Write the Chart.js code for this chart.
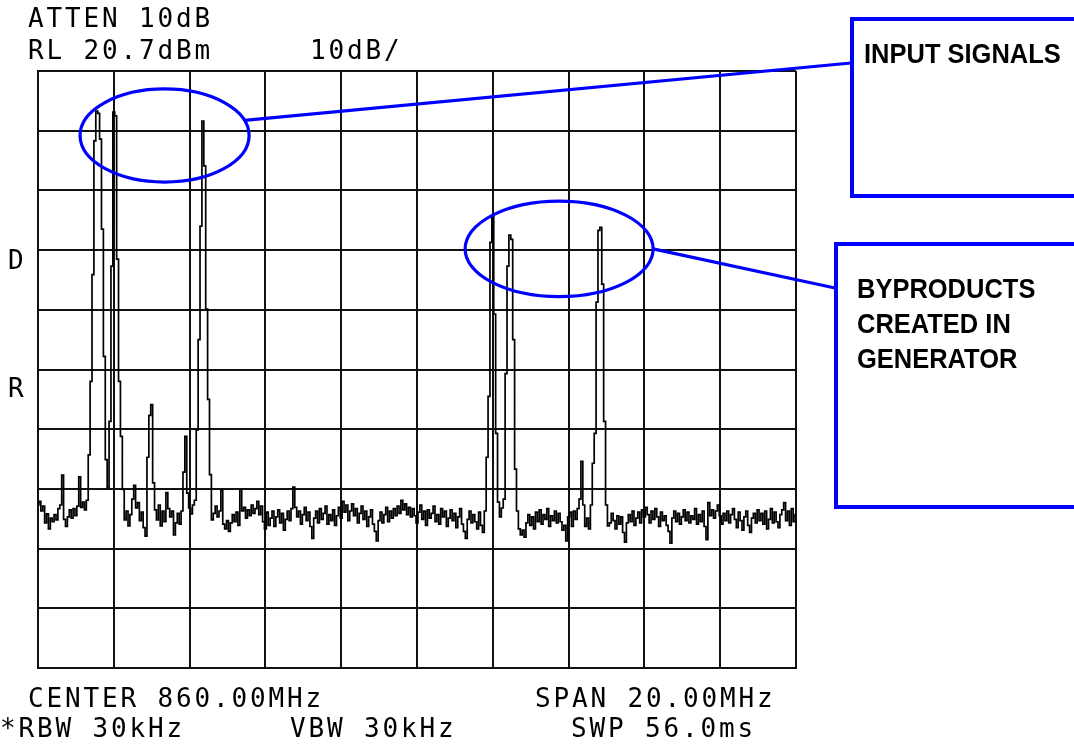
<!DOCTYPE html>
<html>
<head>
<meta charset="utf-8">
<title>Spectrum analyzer - intermodulation test</title>
<script src="https://cdn.jsdelivr.net/npm/chart.js@4.4.1/dist/chart.umd.min.js"></script>
<style>
  html, body { margin: 0; padding: 0; background: #fff; }
  #stage { position: relative; width: 1074px; height: 748px; overflow: hidden; }
  #chart { position: absolute; left: 0; top: 0; }
  .sa {
    position: absolute; color: #000; white-space: pre;
    font-family: "DejaVu Sans Mono", monospace;
    font-size: 26px; line-height: 26px; letter-spacing: 2.85px;
  }
  .box { position: absolute; box-sizing: border-box; border: 4px solid #0000ff; }
  .label {
    position: absolute; color: #000; white-space: pre;
    font-family: "Liberation Sans Narrow", "Liberation Sans", sans-serif;
    font-weight: bold; font-size: 28px; line-height: 35px;
    transform: scaleX(0.91); transform-origin: left top;
  }
</style>
</head>
<body>
<div id="stage">
  <canvas id="chart" width="1074" height="748"></canvas>

  <!-- annotations de l'analyseur -->
  <div class="sa" style="left:28px; top:5px;">ATTEN 10dB</div>
  <div class="sa" style="left:28px; top:37px;">RL 20.7dBm</div>
  <div class="sa" style="left:310px; top:37px;">10dB/</div>
  <div class="sa" style="left:8px; top:247px;">D</div>
  <div class="sa" style="left:8px; top:375px;">R</div>
  <div class="sa" style="left:28px; top:685px;">CENTER 860.00MHz</div>
  <div class="sa" style="left:535px; top:685px;">SPAN 20.00MHz</div>
  <div class="sa" style="left:0px; top:715px;">*RBW 30kHz</div>
  <div class="sa" style="left:290px; top:715px;">VBW 30kHz</div>
  <div class="sa" style="left:571px; top:715px;">SWP 56.0ms</div>

  <!-- encadrés bleus -->
  <div class="box" style="left:850px; top:17px; width:260px; height:181px;"></div>
  <div class="label" style="left:864px; top:36px;">INPUT SIGNALS</div>
  <div class="box" style="left:834px; top:242px; width:280px; height:267px;"></div>
  <div class="label" style="left:857px; top:271px;">BYPRODUCTS
CREATED IN
GENERATOR</div>
</div>

<script>
(function () {
    'use strict';

    const CENTER_MHZ = 860.0;
    const SPAN_MHZ = 20.0;
    const REF_LEVEL_DBM = 20.7;
    const DB_PER_DIV = 10;
    const DIVISIONS = 10;

    // Trace : 401 points de balayage, en dBm
    const TRACE_DBM = [
        -52.0, -51.4, -53.0, -52.2, -55.0, -53.5, -56.0, -54.2, -54.8, -53.6,
        -54.5, -52.6, -52.0, -47.0, -54.4, -55.6, -54.0, -52.8, -54.2, -52.6,
        -53.8, -52.2, -47.3, -52.4, -51.5, -52.8, -51.2, -43.6, -31.3, -13.4,
        9.0, 14.0, 13.6, 9.3, -5.8, -27.1, -44.4, -49.1, -38.0, -12.0,
        13.8, 13.2, -10.8, -31.3, -40.5, -49.4, -54.5, -53.0, -55.5, -53.6,
        -51.0, -48.7, -52.5, -51.6, -54.6, -53.2, -55.8, -57.2, -44.0, -37.0,
        -35.2, -48.3, -52.8, -54.5, -52.0, -55.5, -53.0, -54.8, -49.9, -52.6,
        -54.0, -53.0, -57.0, -55.0, -53.4, -55.2, -53.0, -46.5, -40.5, -50.0,
        -52.5, -53.5, -52.0, -51.2, -39.4, -24.3, -5.3, 12.3, 4.8, -19.2,
        -34.3, -46.9, -54.5, -53.4, -52.2, -54.0, -53.0, -49.5, -55.2, -56.0,
        -54.6, -56.4, -55.0, -53.6, -54.8, -53.2, -55.4, -49.4, -53.0, -52.4,
        -54.2, -52.8, -53.8, -52.0, -53.4, -52.6, -51.4, -53.6, -52.2, -54.8,
        -56.0, -53.2, -55.4, -54.2, -53.0, -55.6, -54.0, -52.8, -55.0, -53.4,
        -56.2, -54.4, -53.0, -54.6, -52.6, -49.0, -52.4, -54.0, -53.0, -55.2,
        -53.6, -52.4, -54.6, -53.2, -55.6, -57.6, -54.2, -53.0, -55.0, -52.6,
        -54.4, -53.4, -52.2, -55.2, -53.6, -54.6, -52.8, -55.4, -53.8, -52.4,
        -54.2, -51.4, -53.2, -52.0, -54.6, -53.0, -51.8, -53.8, -52.6, -55.0,
        -53.4, -52.2, -54.4, -53.0, -55.6, -54.0, -52.8, -55.2, -56.4, -58.0,
        -54.6, -53.2, -55.0, -53.6, -52.4, -54.8, -53.0, -54.2, -52.6, -53.8,
        -52.2, -53.4, -51.2, -52.8, -51.8, -53.6, -52.4, -54.0, -52.6, -53.8,
        -55.0, -53.2, -52.0, -54.4, -53.0, -55.4, -52.8, -54.2, -53.4, -52.2,
        -54.8, -53.6, -55.2, -52.6, -54.0, -53.0, -55.6, -54.2, -52.8, -54.6,
        -53.4, -55.8, -54.0, -52.6, -55.2, -56.4, -57.6, -54.4, -53.0, -55.0,
        -53.6, -54.8, -56.0, -53.2, -55.4, -56.6, -53.0, -44.0, -33.8, -8.0,
        -3.4, -20.0, -40.0, -51.5, -54.0, -52.5, -51.0, -30.0, -12.0, -6.8,
        -7.5, -24.3, -46.0, -53.0, -56.0, -57.0, -56.2, -57.4, -55.0, -53.6,
        -55.4, -54.0, -56.0, -53.2, -54.8, -52.8, -55.2, -53.6, -54.4, -52.6,
        -55.6, -53.8, -54.6, -53.0, -55.0, -53.4, -54.8, -56.2, -55.4, -58.0,
        -54.0, -53.2, -55.6, -53.0, -54.4, -52.6, -51.0, -44.7, -52.0, -55.6,
        -54.2, -56.0, -52.0, -45.0, -40.0, -18.0, -6.0, -5.5, -15.0, -38.0,
        -52.0, -55.5, -55.0, -53.4, -54.6, -56.0, -53.8, -55.2, -54.0, -56.6,
        -58.2, -55.0, -53.6, -54.8, -53.0, -55.4, -54.2, -53.2, -55.0, -52.8,
        -54.0, -52.4, -53.6, -55.0, -53.0, -54.4, -52.6, -54.0, -55.6, -53.2,
        -54.6, -53.8, -55.4, -56.4, -58.4, -54.2, -53.0, -54.8, -53.4, -55.2,
        -54.0, -52.8, -54.6, -53.2, -55.0, -53.8, -54.4, -52.6, -55.2, -53.6,
        -54.8, -53.0, -55.6, -57.8, -51.6, -53.8, -52.8, -54.2, -53.0, -52.0,
        -53.8, -55.2, -53.4, -54.6, -53.0, -55.0, -53.6, -52.6, -54.4, -55.8,
        -53.2, -54.6, -56.2, -54.0, -53.0, -55.4, -56.6, -54.2, -53.4, -55.0,
        -52.8, -54.6, -53.4, -55.2, -53.0, -56.0, -54.4, -52.6, -55.0, -53.2,
        -54.8, -55.8, -53.6, -52.8, -51.6, -54.6, -53.0, -55.4, -52.6, -54.8,
        -53.6
    ];

    // Ellipses bleues (en unités MHz / dB) et extrémité du trait vers l'encadré (px)
    const CALLOUTS = [
        { mhz: 853.34, dbm: 9.9, halfMhz: 2.23, halfDb: 7.8, angle: -19, toX: 851, toY: 63 },
        { mhz: 863.75, dbm: -9.1, halfMhz: 2.48, halfDb: 8.0, angle: 0, toX: 835, toY: 288 }
    ];
    const CALLOUT_COLOR = '#0000ff';

    const startMhz = CENTER_MHZ - SPAN_MHZ / 2;
    const stopMhz = CENTER_MHZ + SPAN_MHZ / 2;
    const bottomDbm = REF_LEVEL_DBM - DB_PER_DIV * DIVISIONS;
    const stepMhz = SPAN_MHZ / (TRACE_DBM.length - 1);

    const points = TRACE_DBM.map((v, i) => ({ x: startMhz + i * stepMhz, y: v }));

    const calloutPlugin = {
        id: 'callouts',
        afterDraw(chart) {
            const { ctx } = chart;
            const xs = chart.scales.x, ys = chart.scales.y;
            ctx.save();
            ctx.strokeStyle = CALLOUT_COLOR;
            ctx.lineWidth = 3.2;
            CALLOUTS.forEach(c => {
                const cx = xs.getPixelForValue(c.mhz);
                const cy = ys.getPixelForValue(c.dbm);
                const rx = Math.abs(xs.getPixelForValue(c.mhz + c.halfMhz) - cx);
                const ry = Math.abs(ys.getPixelForValue(c.dbm + c.halfDb) - cy);
                ctx.beginPath();
                ctx.ellipse(cx, cy, rx, ry, 0, 0, Math.PI * 2);
                ctx.stroke();
                const a = c.angle * Math.PI / 180;
                ctx.beginPath();
                ctx.moveTo(cx + rx * Math.cos(a), cy + ry * Math.sin(a));
                ctx.lineTo(c.toX, c.toY);
                ctx.stroke();
            });
            ctx.restore();
        }
    };

    const gridOpts = { color: '#111', lineWidth: 2, drawTicks: false };
    const borderOpts = { display: true, color: '#111', width: 2 };

    new Chart(document.getElementById('chart'), {
        type: 'line',
        data: {
            datasets: [{
                data: points,
                borderColor: '#000',
                borderWidth: 1.7,
                pointRadius: 0,
                stepped: 'middle',
                fill: false
            }]
        },
        options: {
            responsive: false,
            animation: false,
            devicePixelRatio: 1,
            layout: { padding: { left: 38, top: 71, right: 278, bottom: 80 } },
            plugins: { legend: { display: false }, tooltip: { enabled: false } },
            scales: {
                x: {
                    type: 'linear',
                    min: startMhz,
                    max: stopMhz,
                    ticks: { display: false, stepSize: SPAN_MHZ / DIVISIONS },
                    grid: gridOpts,
                    border: borderOpts,
                    afterFit: s => { s.height = 0; }
                },
                y: {
                    type: 'linear',
                    min: bottomDbm,
                    max: REF_LEVEL_DBM,
                    ticks: { display: false },
                    afterBuildTicks: s => {
                        s.ticks = Array.from({ length: DIVISIONS + 1 },
                            (_, k) => ({ value: REF_LEVEL_DBM - k * DB_PER_DIV }));
                    },
                    grid: gridOpts,
                    border: borderOpts,
                    afterFit: s => { s.width = 0; }
                }
            }
        },
        plugins: [calloutPlugin]
    });
})();
</script>
</body>
</html>
